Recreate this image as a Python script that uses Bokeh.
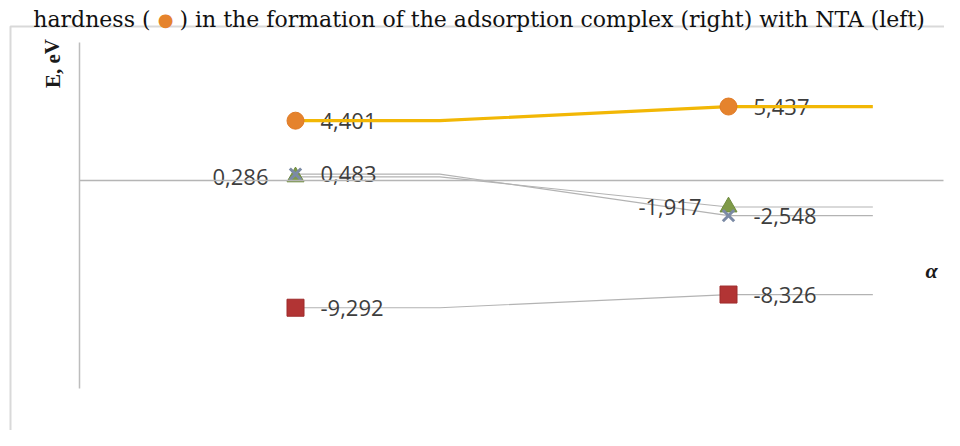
from bokeh.plotting import figure
from bokeh.models import Range1d, Label, BoxAnnotation, FixedTicker, ColumnDataSource, LinearAxis
from bokeh.core.properties import value
from bokeh.embed import file_html
from bokeh.resources import INLINE

# ---------------- data ----------------
alpha_pos = [0, 1]                 # NTA (left), adsorption complex (right)
hardness = [4.401, 5.437]          # orange circles, yellow line
series_tri = [0.286, -1.917]       # green triangles
series_x = [0.483, -2.548]         # grey-blue crosses
series_sq = [-9.292, -8.326]       # dark red squares

title_parts = ["hardness (", "\u25CF", ") in the formation of the adsorption complex (right) with NTA (left)"]
y_label = "E, eV"
x_label = "\u03B1"

# ---------------- layout (pixels in figure space) ----------------
W, H = 944, 430
PX_X = 433.0                           # px per alpha unit
X0_PX = 295.0                          # px of alpha = 0
PX_Y = 13.66                           # px per eV
Y0_PX = 180.3                          # px of E = 0

XR0 = -X0_PX / PX_X
XR1 = (W - X0_PX) / PX_X
YR1 = Y0_PX / PX_Y
YR0 = -(H - Y0_PX) / PX_Y


def dx(fx):
    return XR0 + fx / PX_X


def dy(fy):
    return YR1 - fy / PX_Y


KINK = 1.0 / 3.0
TAIL = 1.0 / 3.0


def path(vals):
    xs = [alpha_pos[0], alpha_pos[0] + KINK, alpha_pos[1], alpha_pos[1] + TAIL]
    ys = [vals[0], vals[0], vals[1], vals[1]]
    return xs, ys


def fmt(v):
    return f"{v:.3f}".replace(".", ",")


p = figure(width=W, height=H, output_backend="svg", toolbar_location=None,
           x_range=Range1d(XR0, XR1), y_range=Range1d(YR0, YR1),
           x_axis_location=None, y_axis_location=None,
           min_border=0, min_border_left=0, min_border_right=0,
           min_border_top=0, min_border_bottom=0)
p.xgrid.visible = False
p.ygrid.visible = False
p.outline_line_color = None
p.background_fill_color = "white"
p.border_fill_color = "white"

# vertical axis (E) and horizontal axis (E = 0)
yaxis = LinearAxis(fixed_location=dx(79), bounds=(dy(388), dy(42)),
                   ticker=FixedTicker(ticks=[]), major_tick_line_color=None,
                   minor_tick_line_color=None, major_label_text_font_size="0px",
                   axis_line_color="#bdbdbd", axis_line_width=1.5)
p.add_layout(yaxis, "left")
xaxis = LinearAxis(fixed_location=0, bounds=(dx(79), dx(943)),
                   ticker=FixedTicker(ticks=[]), major_tick_line_color=None,
                   minor_tick_line_color=None, major_label_text_font_size="0px",
                   axis_line_color="#b5b5b5", axis_line_width=1.5)
p.add_layout(xaxis, "below")

# outer chart border
p.add_layout(BoxAnnotation(left=dx(10), top=dy(26), right=dx(1200), bottom=dy(700),
                           fill_alpha=0, line_color="#808080", line_width=2))

grey = "#b3b3b3"
for vals in (series_sq, series_tri, series_x):
    xs, ys = path(vals)
    p.line(xs, ys, line_color=grey, line_width=1.2)

font = value("Open Sans")
lab_kw = dict(text_font=font, text_font_size="22px", text_color="#3d3d3d",
              text_baseline="middle")

# labels right of markers
right_vals = hardness + series_x + series_sq
right_src = ColumnDataSource(dict(
    x=alpha_pos + alpha_pos + alpha_pos,
    y=right_vals,
    t=[fmt(v) for v in right_vals]))
p.text(x="x", y="y", text="t", source=right_src, text_align="left", x_offset=25, **lab_kw)

# labels left of markers
left_src = ColumnDataSource(dict(x=alpha_pos, y=series_tri, t=[fmt(v) for v in series_tri]))
p.text(x="x", y="y", text="t", source=left_src, text_align="right", x_offset=-27, **lab_kw)

# hardness line (on top of its labels)
xs, ys = path(hardness)
p.line(xs, ys, line_color="#f2b705", line_width=3.2)

# markers
p.scatter(alpha_pos, series_sq, marker="square", size=17, fill_color="#b23434", line_color="#9e2b2b")
p.scatter(alpha_pos, series_tri, marker="triangle", size=17, fill_color="#7f9a48", line_color="#6d8a3c")
p.scatter(alpha_pos, series_x, marker="x", size=16, line_color="#7b8aa5", line_width=3)
p.scatter(alpha_pos, hardness, marker="circle", size=17, fill_color="#e5832d", line_color="#e07a25")

# axis titles
p.add_layout(Label(x=dx(52), y=dy(63), text=y_label, angle=1.5708, text_align="center",
                   text_baseline="middle", text_font="Liberation Serif",
                   text_font_style="bold", text_font_size="21px", text_color="#1a1a1a"))
p.add_layout(Label(x=dx(931), y=dy(270), text=x_label, text_align="center",
                   text_baseline="middle", text_font="Liberation Serif",
                   text_font_style="bold italic", text_font_size="22px", text_color="#1a1a1a"))

# caption at the very top
cap_kw = dict(text_baseline="alphabetic", text_font="DejaVu Serif",
              text_font_size="22px", text_color="#111111")
p.add_layout(Label(x=dx(150), y=dy(19), text=title_parts[0], text_align="right", **cap_kw))
p.add_layout(Label(x=dx(165), y=dy(19), text=title_parts[1], text_align="center",
                   text_baseline="alphabetic", text_font="DejaVu Sans",
                   text_font_size="18px", text_color="#e5832d"))
p.add_layout(Label(x=dx(179), y=dy(19), text=title_parts[2], text_align="left", **cap_kw))

open("out.html", "w").write(file_html(p, INLINE))
